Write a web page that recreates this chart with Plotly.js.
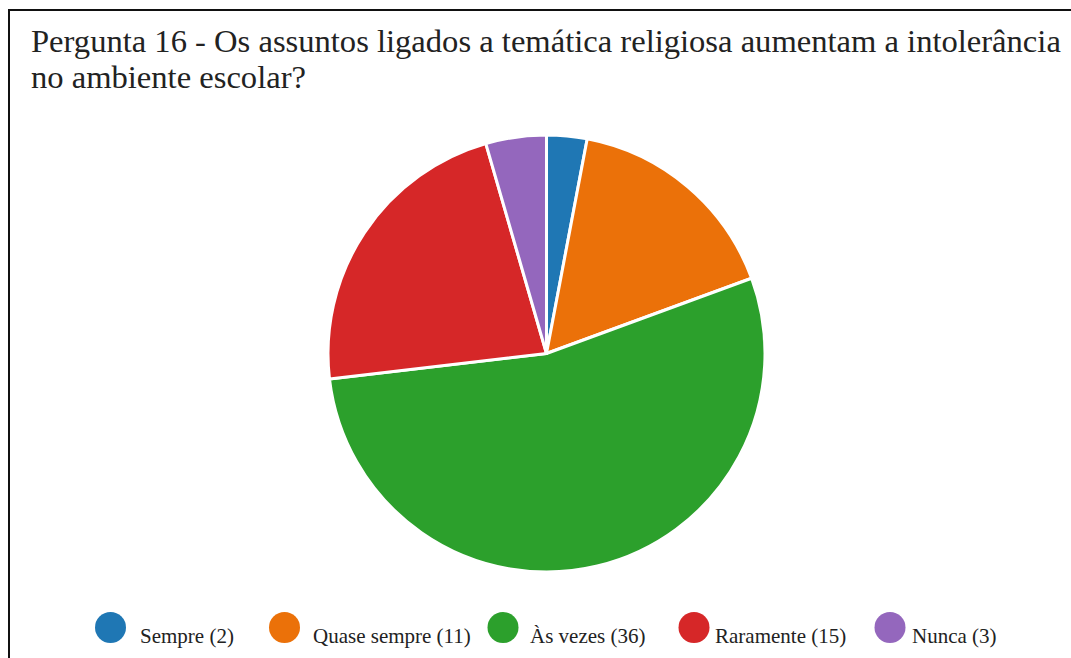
<!DOCTYPE html>
<html>
<head>
<meta charset="utf-8">
<script src="https://cdn.plot.ly/plotly-3.0.1.min.js"></script>
<style>
  html, body { margin: 0; padding: 0; background: #fff; overflow: hidden; }
  #wrap { position: relative; width: 1071px; height: 658px; }
  #chart { width: 1071px; height: 658px; }
  #frame { position: absolute; left: 8px; top: 9px; width: 2000px; height: 2000px;
           border-left: 2px solid #111; border-top: 2px solid #111; pointer-events: none; box-sizing: border-box; }
</style>
</head>
<body>
<div id="wrap">
  <div id="chart"></div>
  <div id="frame"></div>
</div>
<script>
// ---- data ----
const categories = ["Sempre", "Quase sempre", "Às vezes", "Raramente", "Nunca"];
const counts = [2, 11, 36, 15, 3];
const colors = ["#1f77b4", "#eb7109", "#2ca02c", "#d62728", "#9467bd"];
const titleLines = ["Pergunta 16 - Os assuntos ligados a temática religiosa aumentam a intolerância", "no ambiente escolar?"];

// ---- layout helpers (pixels -> paper) ----
const W = 1071, H = 658;
const px = x => x / W;
const py = y => 1 - y / H;
const FONT = 'Liberation Serif';

// legend layout (pixel positions of items)
const legendCircleX = [110.5, 284.5, 503, 694, 890];
const legendTextX = [137.5, 311, 528, 713, 910];
const legendCircleY = 627.5, legendR = 15.5, legendTextY = 636;

const pieCx = 546.5, pieCy = 353.5, pieR = 218.5;

const trace = {
  type: 'pie',
  labels: categories,
  values: counts,
  sort: false,
  direction: 'clockwise',
  rotation: 0,
  textinfo: 'none',
  hoverinfo: 'label+value+percent',
  marker: { colors: colors, line: { color: '#ffffff', width: 3 } },
  domain: { x: [px(pieCx - pieR), px(pieCx + pieR)], y: [py(pieCy + pieR), py(pieCy - pieR)] },
  showlegend: false
};

const annotations = [];
titleLines.forEach((t, i) => {
  annotations.push({
    xref: 'paper', yref: 'paper', x: px(29), y: py(i === 0 ? 41 : 77),
    xanchor: 'left', yanchor: 'middle', showarrow: false, text: t,
    font: { family: FONT, size: 32.6, color: '#222' }
  });
});
const shapes = [];
categories.forEach((c, i) => {
  annotations.push({
    xref: 'paper', yref: 'paper', x: px(legendTextX[i]), y: py(legendTextY),
    xanchor: 'left', yanchor: 'middle', showarrow: false,
    text: c + ' (' + counts[i] + ')',
    font: { family: FONT, size: 21, color: '#222' }
  });
  shapes.push({
    type: 'circle', xref: 'paper', yref: 'paper',
    x0: px(legendCircleX[i] - legendR), x1: px(legendCircleX[i] + legendR),
    y0: py(legendCircleY + legendR), y1: py(legendCircleY - legendR),
    fillcolor: colors[i], line: { width: 0 }
  });
});

const layout = {
  width: W, height: H,
  margin: { l: 0, r: 0, t: 0, b: 0 },
  paper_bgcolor: '#ffffff',
  showlegend: false,
  font: { family: FONT },
  annotations: annotations,
  shapes: shapes
};

Plotly.newPlot('chart', [trace], layout, { displayModeBar: false, staticPlot: true });
</script>
</body>
</html>
